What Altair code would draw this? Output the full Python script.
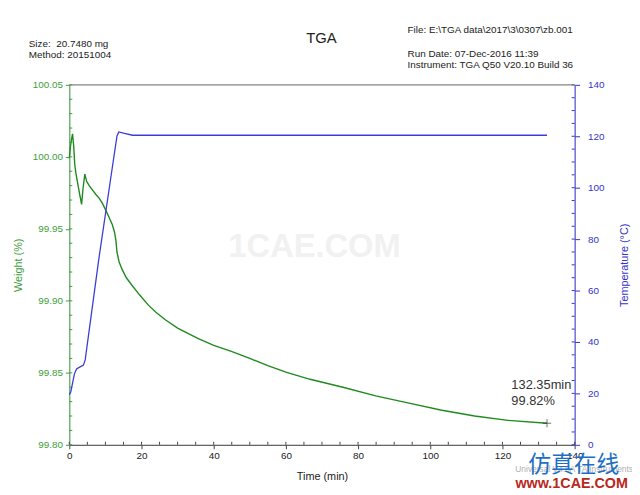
import altair as alt
import pandas as pd

# ---- data ----
w_time = [0.0, 0.3, 0.6, 0.9, 1.2, 1.5, 1.8, 2.3, 2.8, 3.4, 3.8, 4.3, 4.8, 5.5, 6.4, 7.3,
          8.2, 9.1, 10.0, 11.0, 11.9, 12.5, 12.9, 13.2, 13.8, 14.6, 15.8, 17.3, 19.5, 21.9,
          24.0, 26.5, 30.0, 35.6, 40.0, 44.7, 50.0, 55.0, 60.0, 66.7, 75.8, 84.9, 94.1,
          103.2, 112.3, 121.5, 132.35]
w_weight = [99.999, 100.007, 100.012, 100.016, 100.008, 99.995, 99.989, 99.982, 99.975,
            99.967, 99.978, 99.988, 99.983, 99.980, 99.977, 99.974, 99.9715, 99.968,
            99.9635, 99.958, 99.953, 99.948, 99.942, 99.934, 99.927, 99.922, 99.916,
            99.911, 99.904, 99.897, 99.892, 99.887, 99.881, 99.874, 99.869, 99.865,
            99.860, 99.855, 99.8505, 99.8455, 99.840, 99.834, 99.829, 99.824, 99.820,
            99.817, 99.815]

t_time = [0.0, 0.4, 0.9, 1.4, 2.0, 3.0, 3.9, 4.4, 8.2, 11.4, 13.2, 13.7, 15.0, 17.5, 132.35]
t_temp = [19.5, 20.5, 24.0, 27.5, 29.5, 30.3, 31.0, 33.0, 72.5, 103.0, 120.0, 121.7,
          121.2, 120.4, 120.4]

x_ticks = [0, 20, 40, 60, 80, 100, 120, 140]
x_minor = [v for v in range(0, 141, 5)]
w_ticks = [99.80, 99.85, 99.90, 99.95, 100.00, 100.05]
w_minor = [round(99.80 + 0.01 * i, 2) for i in range(26)]
temp_ticks = [0, 20, 40, 60, 80, 100, 120, 140]
temp_minor = [v for v in range(0, 141, 5)]

end_time = [132.35]
end_weight = [99.815]

W, H = 511, 364
FONT = "Liberation Sans"
GREEN_LINE = "#1f8a1f"
GREEN_AX = "#3d9e3d"
BLUE_LINE = "#3c3cd8"
BLUE_AX = "#3434cc"
GRAY = "#444444"

wdf = pd.DataFrame({"t": w_time, "w": w_weight})
tdf = pd.DataFrame({"t": t_time, "temp": t_temp})

xscale = alt.Scale(domain=[0, 140], nice=False)
wscale = alt.Scale(domain=[99.80, 100.05], nice=False, zero=False)
tscale = alt.Scale(domain=[0, 140], nice=False)

xaxis = alt.Axis(values=x_ticks, title="Time (min)", grid=False, domainColor=GRAY,
                 tickColor=GRAY, labelColor="#222222", titleColor="#222222",
                 tickSize=4, labelPadding=2, titlePadding=10, labelFlush=False,
                 titleFontWeight="normal")
waxis = alt.Axis(orient="left", values=w_ticks, format=".2f", title="Weight (%)",
                 grid=False, domainColor=GREEN_AX, tickColor=GREEN_AX,
                 labelColor=GREEN_AX, titleColor=GREEN_AX, tickSize=4,
                 labelPadding=3, titlePadding=9, titleFontWeight="normal")
taxis = alt.Axis(orient="right", values=temp_ticks, title="Temperature (°C)",
                 grid=False, domainColor=BLUE_AX, tickColor=BLUE_AX,
                 labelColor=BLUE_AX, titleColor=BLUE_AX, tickSize=5,
                 labelPadding=8, titlePadding=26, titleAngle=270,
                 titleFontWeight="normal")

weight_line = alt.Chart(wdf).mark_line(color=GREEN_LINE, strokeWidth=1.4).encode(
    x=alt.X("t:Q", scale=xscale, axis=xaxis),
    y=alt.Y("w:Q", scale=wscale, axis=waxis),
)

w_minor_df = pd.DataFrame({"w": w_minor})
w_minor_rules = alt.Chart(w_minor_df).mark_rule(color=GREEN_AX, strokeWidth=1).encode(
    y=alt.Y("w:Q", scale=wscale, axis=waxis),
    x=alt.value(0), x2=alt.value(3),
)

marker = alt.Chart(pd.DataFrame({"t": end_time, "w": end_weight})).mark_point(
    shape="M-1,0H1M0,-1V1", size=70, filled=False, color="#333333", strokeWidth=1
).encode(
    x=alt.X("t:Q", scale=xscale, axis=xaxis),
    y=alt.Y("w:Q", scale=wscale, axis=waxis),
)

left = alt.layer(weight_line, w_minor_rules, marker)

temp_line = alt.Chart(tdf).mark_line(color=BLUE_LINE, strokeWidth=1.3).encode(
    x=alt.X("t:Q", scale=xscale, axis=xaxis),
    y=alt.Y("temp:Q", scale=tscale, axis=taxis),
)

t_minor_df = pd.DataFrame({"temp": temp_minor})
t_minor_rules = alt.Chart(t_minor_df).mark_rule(color=BLUE_AX, strokeWidth=1).encode(
    y=alt.Y("temp:Q", scale=tscale, axis=taxis),
    x=alt.value(W), x2=alt.value(W - 3),
)

right = alt.layer(temp_line, t_minor_rules)

x_minor_df = pd.DataFrame({"t": x_minor})
x_minor_rules = alt.Chart(x_minor_df).mark_rule(color=GRAY, strokeWidth=1).encode(
    x=alt.X("t:Q", scale=xscale, axis=xaxis),
    y=alt.value(H), y2=alt.value(H - 3),
)

one = pd.DataFrame({"a": [0]})


def label(txt, x, y, size=10, color="#222222", align="left", weight="normal", font=FONT,
          baseline="middle"):
    return alt.Chart(one).mark_text(text=txt, fontSize=size, color=color, align=align,
                                    baseline=baseline, fontWeight=weight, font=font).encode(
        x=alt.value(x), y=alt.value(y))


top_line = alt.Chart(one).mark_rule(color="#777777", strokeWidth=1).encode(
    x=alt.value(0), x2=alt.value(W), y=alt.value(0))

watermark = label("1CAE.COM", 248, 164, 33, color="#f1f1f1", align="center", weight="bold")

texts = [
    label("Size:\u00a0 20.7480 mg", -41, -41.5, 10),
    label("Method: 20151004", -41, -30.5, 10),
    label("TGA", 255, -47, 15, align="center"),
    label("File: E:\\TGA data\\2017\\3\\0307\\zb.001", 342, -55, 10),
    label("Run Date: 07-Dec-2016 11:39", 342, -31, 10),
    label("Instrument: TGA Q50 V20.10 Build 36", 342, -20, 10),
    label("132.35min", 447, 304, 13, color="#333333"),
    label("99.82%", 447, 320, 13, color="#333333"),
    label("Universal V4.5A TA Instruments", 451, 389, 8.5, color="#b0b0b0"),
    label("仿真在线", 510, 384, 23, color="#1e6fc4", align="center",
          font="Noto Sans CJK SC"),
    label("www.1CAE.COM", 508, 404, 14.5, color="#b8281c", align="center", weight="bold"),
]

chart = alt.layer(
    watermark, left, right, x_minor_rules, top_line, *texts
).resolve_scale(y="independent").properties(
    width=W, height=H,
    autosize=alt.AutoSizeParams(type="none"),
    padding={"left": 62, "top": 75, "right": 58, "bottom": 44},
).configure_view(strokeWidth=0).configure_axis(
    labelFont=FONT, titleFont=FONT, labelFontSize=11, titleFontSize=12,
    titleFontWeight="normal"
).configure(background="white")

chart.save("out.html", embed_options={"renderer": "svg", "actions": False})
